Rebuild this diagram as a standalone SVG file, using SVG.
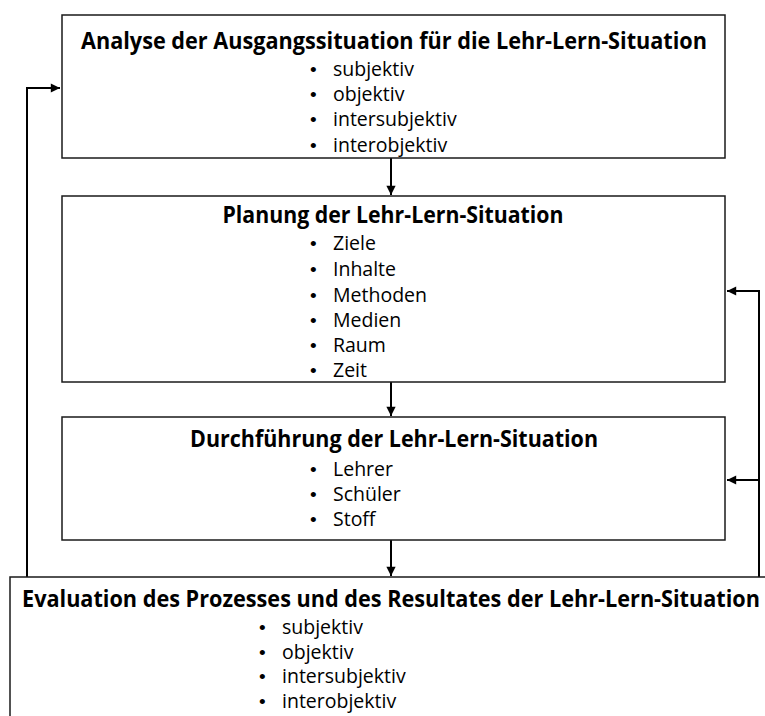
<svg xmlns="http://www.w3.org/2000/svg" width="765" height="716" viewBox="0 0 765 716">
<defs>
<marker id="ah" viewBox="0 0 10 10" refX="10" refY="5" markerWidth="5" markerHeight="4.6" orient="auto" markerUnits="strokeWidth">
<path d="M0,0 L10,5 L0,10 z" fill="#000"/>
</marker>
<style>
.box{fill:#fff;stroke:#1a1a1a;stroke-width:1.5}
.t{font-family:"Open Sans","Liberation Sans",sans-serif;font-weight:bold;font-size:22.5px;fill:#000;text-anchor:middle}
.b{font-family:"Open Sans","Liberation Sans",sans-serif;font-size:19.5px;fill:#000}
.d{font-family:"Liberation Sans",Arial,sans-serif;font-size:19px;fill:#000}
.c{fill:none;stroke:#000;stroke-width:2}
</style>
</defs>
<g id="connectors">
<line class="c" x1="391" y1="158" x2="391" y2="195" marker-end="url(#ah)"/>
<line class="c" x1="391" y1="382" x2="391" y2="416" marker-end="url(#ah)"/>
<line class="c" x1="391" y1="540" x2="391" y2="576" marker-end="url(#ah)"/>
<polyline class="c" points="27,577 27,88 60,88" marker-end="url(#ah)"/>
<polyline class="c" points="759,577 759,291 727,291" marker-end="url(#ah)"/>
<polyline class="c" points="759,480 727,480" marker-end="url(#ah)"/>
</g>
<g id="analyse">
<rect class="box" x="62" y="15" width="663" height="143"/>
<text class="t" x="394" y="49" textLength="626" lengthAdjust="spacingAndGlyphs">Analyse der Ausgangssituation für die Lehr-Lern-Situation</text>
<text class="d" x="310" y="76">•</text><text class="b" x="333" y="76">subjektiv</text>
<text class="d" x="310" y="101">•</text><text class="b" x="333" y="101">objektiv</text>
<text class="d" x="310" y="126">•</text><text class="b" x="333" y="126">intersubjektiv</text>
<text class="d" x="310" y="152">•</text><text class="b" x="333" y="152">interobjektiv</text>
</g>
<g id="planung">
<rect class="box" x="62" y="196" width="663" height="186"/>
<text class="t" x="393" y="223" textLength="341" lengthAdjust="spacingAndGlyphs">Planung der Lehr-Lern-Situation</text>
<text class="d" x="310" y="250">•</text><text class="b" x="333" y="250">Ziele</text>
<text class="d" x="310" y="276">•</text><text class="b" x="333" y="276">Inhalte</text>
<text class="d" x="310" y="302">•</text><text class="b" x="333" y="302">Methoden</text>
<text class="d" x="310" y="327">•</text><text class="b" x="333" y="327">Medien</text>
<text class="d" x="310" y="352">•</text><text class="b" x="333" y="352">Raum</text>
<text class="d" x="310" y="377">•</text><text class="b" x="333" y="377">Zeit</text>
</g>
<g id="durchfuehrung">
<rect class="box" x="62" y="417" width="663" height="123"/>
<text class="t" x="394" y="447" textLength="408" lengthAdjust="spacingAndGlyphs">Durchführung der Lehr-Lern-Situation</text>
<text class="d" x="310" y="476">•</text><text class="b" x="333" y="476">Lehrer</text>
<text class="d" x="310" y="501">•</text><text class="b" x="333" y="501">Schüler</text>
<text class="d" x="310" y="526">•</text><text class="b" x="333" y="526">Stoff</text>
</g>
<g id="evaluation">
<rect class="box" x="10" y="577" width="770" height="160"/>
<text class="t" x="391" y="607" textLength="738" lengthAdjust="spacingAndGlyphs">Evaluation des Prozesses und des Resultates der Lehr-Lern-Situation</text>
<text class="d" x="259" y="634">•</text><text class="b" x="282" y="634">subjektiv</text>
<text class="d" x="259" y="659">•</text><text class="b" x="282" y="659">objektiv</text>
<text class="d" x="259" y="683">•</text><text class="b" x="282" y="683">intersubjektiv</text>
<text class="d" x="259" y="708">•</text><text class="b" x="282" y="708">interobjektiv</text>
</g>
</svg>
